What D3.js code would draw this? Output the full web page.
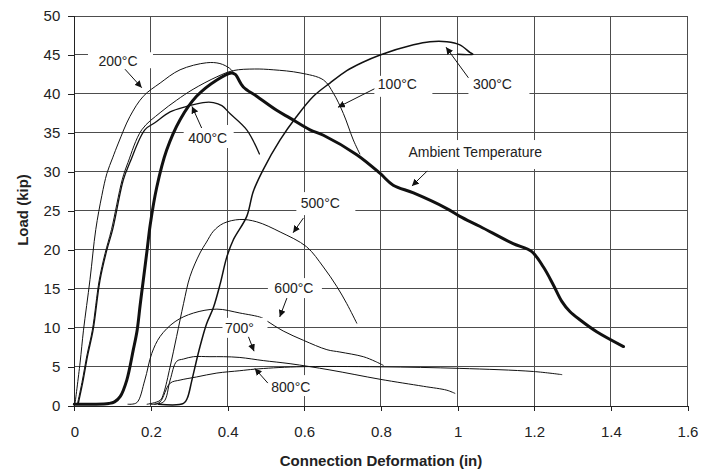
<!DOCTYPE html>
<html>
<head>
<meta charset="utf-8">
<script src="https://cdn.jsdelivr.net/npm/d3@7"></script>
<style>
  html, body { margin: 0; padding: 0; background: #fff; }
  svg { display: block; font-family: "Liberation Sans", Arial, sans-serif; }
</style>
</head>
<body>
<svg id="chart" width="703" height="472"></svg>
<script>
// Load vs. connection deformation, one curve per test temperature.
// Each series: [deformation (in), load (kip)]
const ambient = [[0,0.2],[0.05,0.2],[0.09,0.3],[0.105,0.5],[0.12,1.2],[0.137,3.3],[0.154,7.2],[0.164,9.7],[0.172,13],[0.18,16.1],[0.19,20],[0.198,23.2],[0.215,28],[0.241,32.8],[0.276,36.7],[0.319,39.7],[0.372,41.8],[0.41,42.7],[0.42,42.5],[0.441,40.9],[0.476,39.7],[0.528,37.9],[0.563,36.9],[0.615,35.4],[0.65,34.7],[0.737,32.2],[0.798,29.8],[0.832,28.3],[0.885,27.3],[0.972,25.3],[1.006,24.3],[1.059,23.0],[1.145,20.8],[1.193,19.8],[1.224,17.8],[1.25,15.5],[1.272,13.4],[1.293,12.1],[1.32,11.0],[1.363,9.5],[1.433,7.6]];
const t100 = [[0.008,0.2],[0.02,3],[0.033,6.5],[0.047,9.7],[0.065,16.1],[0.08,19.5],[0.097,22.6],[0.125,29],[0.14,31.2],[0.176,35.4],[0.224,37.6],[0.267,39.2],[0.31,40.6],[0.372,42.2],[0.415,43.0],[0.47,43.2],[0.519,43.1],[0.589,42.7],[0.65,41.8],[0.676,40.1],[0.702,37.5],[0.728,34.1],[0.745,32.3]];
const t200 = [[0.002,0.3],[0.015,5.5],[0.024,9.7],[0.041,16.2],[0.056,22.6],[0.072,27],[0.085,29.8],[0.1,31.8],[0.115,33.7],[0.145,37.1],[0.18,39.7],[0.224,41.4],[0.276,43.1],[0.345,44.0],[0.38,43.9],[0.405,43.3],[0.415,42.8]];
const t300 = [[0.22,0.2],[0.285,0.3],[0.295,1.0],[0.306,3.1],[0.315,5.0],[0.328,7.6],[0.345,10.5],[0.363,12.6],[0.381,15.7],[0.398,19.1],[0.415,21.3],[0.45,24.3],[0.467,27.5],[0.493,30.3],[0.537,34.1],[0.58,37.1],[0.624,39.7],[0.667,41.4],[0.711,43.0],[0.75,44.0],[0.798,45.0],[0.885,46.3],[0.928,46.7],[0.972,46.7],[1.006,46.3],[1.033,45.3],[1.04,45.1],[1.0,45.1]];
const t400 = [[0.01,0.2],[0.022,3],[0.035,6.5],[0.049,9.7],[0.067,16.1],[0.085,20],[0.1,22.6],[0.128,29],[0.145,31.2],[0.184,35.4],[0.21,36.3],[0.25,37.7],[0.293,38.4],[0.336,38.9],[0.363,38.9],[0.385,38.5],[0.406,37.5],[0.45,35.4],[0.483,32.3]];
const t500 = [[0.19,0.2],[0.224,0.7],[0.233,1.6],[0.25,5],[0.267,8.9],[0.285,13.1],[0.302,16.6],[0.328,19.6],[0.345,21.0],[0.363,22.4],[0.389,23.4],[0.432,23.9],[0.476,23.6],[0.537,22.3],[0.606,20.4],[0.65,17.8],[0.685,15.3],[0.711,13.1],[0.737,10.6]];
const t600 = [[0.14,0.2],[0.163,0.4],[0.184,3.3],[0.202,6.7],[0.224,8.9],[0.263,10.8],[0.311,11.9],[0.372,12.4],[0.432,11.9],[0.489,11.3],[0.502,10.9],[0.545,9.6],[0.598,8.4],[0.659,7.2],[0.693,6.9],[0.754,6.3],[0.785,5.7],[0.806,5.2]];
const t700 = [[0.2,0.2],[0.233,0.5],[0.25,3.3],[0.267,5.7],[0.285,6.0],[0.311,6.3],[0.354,6.3],[0.389,6.3],[0.432,6.2],[0.493,5.8],[0.563,5.4],[0.667,4.6],[0.798,3.4],[0.911,2.5],[0.972,2.0],[0.993,1.6]];
const t800 = [[0.21,0.2],[0.224,0.5],[0.25,2.9],[0.276,3.3],[0.319,3.7],[0.372,4.2],[0.432,4.5],[0.471,4.7],[0.58,5.0],[0.798,5.0],[1.006,4.8],[1.198,4.4],[1.272,4.0]];

const xTicks = [0, 0.2, 0.4, 0.6, 0.8, 1, 1.2, 1.4, 1.6];
const yTicks = [0, 5, 10, 15, 20, 25, 30, 35, 40, 45, 50];

const xTitle = "Connection Deformation (in)";
const yTitle = "Load (kip)";

// Curve labels: text, label centre [in, kip], arrow tip [in, kip]
const labelText = ["200°C", "400°C", "100°C", "300°C", "Ambient Temperature", "500°C", "600°C", "700°", "800°C"];
const labelAt   = [[0.114,44.2],[0.348,34.35],[0.843,41.3],[1.091,41.3],[1.046,32.55],[0.642,26.0],[0.573,15.1],[0.431,10.0],[0.565,2.4]];
const arrowTip  = [[0.176,40.8],[0.307,38.4],[0.688,38.3],[0.97,46.0],[0.881,28.2],[0.571,22.2],[0.536,11.4],[0.469,7.0],[0.471,4.8]];

// ---- layout ----
const svg = d3.select("#chart");
const x = d3.scaleLinear().domain([0, 1.6]).range([74.3, 687.5]);
const y = d3.scaleLinear().domain([0, 50]).range([405.8, 16]);

// Label box geometry (px): [left, right, top, bottom] offsets from label centre,
// and arrow tail offsets from label centre
const boxPad = [[-30,35,-9,7],[-24,26,-13,10],[-23,35,-8,13],[-24,37,-8,13],[-72,76,-12,17],[-24,35,-11,12],[-26,28,-10,10],[-17,28,-10,10],[-23,23,-12,9]];
const tailOff = [[7,8],[-6,-10],[-23,5],[-24,-6],[-48,19],[-17,15],[-7,10],[9,9],[-23,-4]];

// gridlines
const grid = svg.append("g").attr("shape-rendering", "crispEdges");
grid.selectAll("line.v").data(xTicks.slice(1)).join("line")
  .attr("x1", d => x(d)).attr("x2", d => x(d))
  .attr("y1", y(0)).attr("y2", y(50))
  .attr("stroke", "#4d4d4d").attr("stroke-width", 1);
grid.selectAll("line.h").data(yTicks.slice(1)).join("line")
  .attr("x1", x(0)).attr("x2", x(1.6))
  .attr("y1", d => y(d)).attr("y2", d => y(d))
  .attr("stroke", "#4d4d4d").attr("stroke-width", 1);

// axes
const xAxis = d3.axisBottom(x).tickValues(xTicks).tickSize(5).tickPadding(16)
  .tickFormat(d => d3.format("")(d));
const yAxis = d3.axisLeft(y).tickValues(yTicks).tickSize(6).tickPadding(8);

const gx = svg.append("g").attr("transform", `translate(0,${y(0)})`).call(xAxis);
const gy = svg.append("g").attr("transform", `translate(${x(0)},0)`).call(yAxis);
[gx, gy].forEach(g => {
  g.select(".domain").attr("stroke", "#222").attr("shape-rendering", "crispEdges");
  g.selectAll(".tick line").attr("stroke", "#222").attr("shape-rendering", "crispEdges");
  g.selectAll(".tick text").attr("fill", "#222")
    .style("font-size", "15px").style("font-family", "'Liberation Sans', Arial, sans-serif");
});

// axis titles
svg.append("text").attr("x", 381).attr("y", 466).attr("text-anchor", "middle")
  .style("font-size", "15px").style("font-weight", "bold").attr("fill", "#222").text(xTitle);
svg.append("text").attr("transform", "translate(28,210) rotate(-90)").attr("text-anchor", "middle")
  .style("font-size", "15px").style("font-weight", "bold").attr("fill", "#222").text(yTitle);

// curves
const line = d3.line().x(d => x(d[0])).y(d => y(d[1])).curve(d3.curveCatmullRom.alpha(0.5));
const series = [
  { data: t200, w: 1.0 },
  { data: t100, w: 1.0 },
  { data: t400, w: 1.3 },
  { data: t500, w: 1.0 },
  { data: t600, w: 1.0 },
  { data: t700, w: 1.0 },
  { data: t800, w: 1.0 },
  { data: t300, w: 1.5 },
  { data: ambient, w: 3.0 }
];
svg.append("g").selectAll("path").data(series).join("path")
  .attr("d", d => line(d.data))
  .attr("fill", "none").attr("stroke", "#111")
  .attr("stroke-width", d => d.w)
  .attr("stroke-linejoin", "round").attr("stroke-linecap", "round");

// arrowhead
svg.append("defs").append("marker")
  .attr("id", "head").attr("viewBox", "0 0 10 10")
  .attr("refX", 10).attr("refY", 5)
  .attr("markerWidth", 7).attr("markerHeight", 7)
  .attr("markerUnits", "userSpaceOnUse")
  .attr("orient", "auto")
  .append("path").attr("d", "M0,0 L10,5 L0,10 z").attr("fill", "#111");

// labels with white boxes and arrows
const labels = svg.append("g");
labelText.forEach((t, i) => {
  const cx = x(labelAt[i][0]), cy = y(labelAt[i][1]);
  const b = boxPad[i];
  labels.append("rect")
    .attr("x", cx + b[0]).attr("y", cy + b[2])
    .attr("width", b[1] - b[0]).attr("height", b[3] - b[2])
    .attr("fill", "#fff");
  labels.append("text")
    .attr("x", cx).attr("y", cy).attr("dy", "0.35em")
    .attr("text-anchor", "middle")
    .style("font-size", "14px").attr("fill", "#222")
    .text(t);
  labels.append("line")
    .attr("x1", cx + tailOff[i][0]).attr("y1", cy + tailOff[i][1])
    .attr("x2", x(arrowTip[i][0])).attr("y2", y(arrowTip[i][1]))
    .attr("stroke", "#111").attr("stroke-width", 1)
    .attr("marker-end", "url(#head)");
});
</script>
</body>
</html>
